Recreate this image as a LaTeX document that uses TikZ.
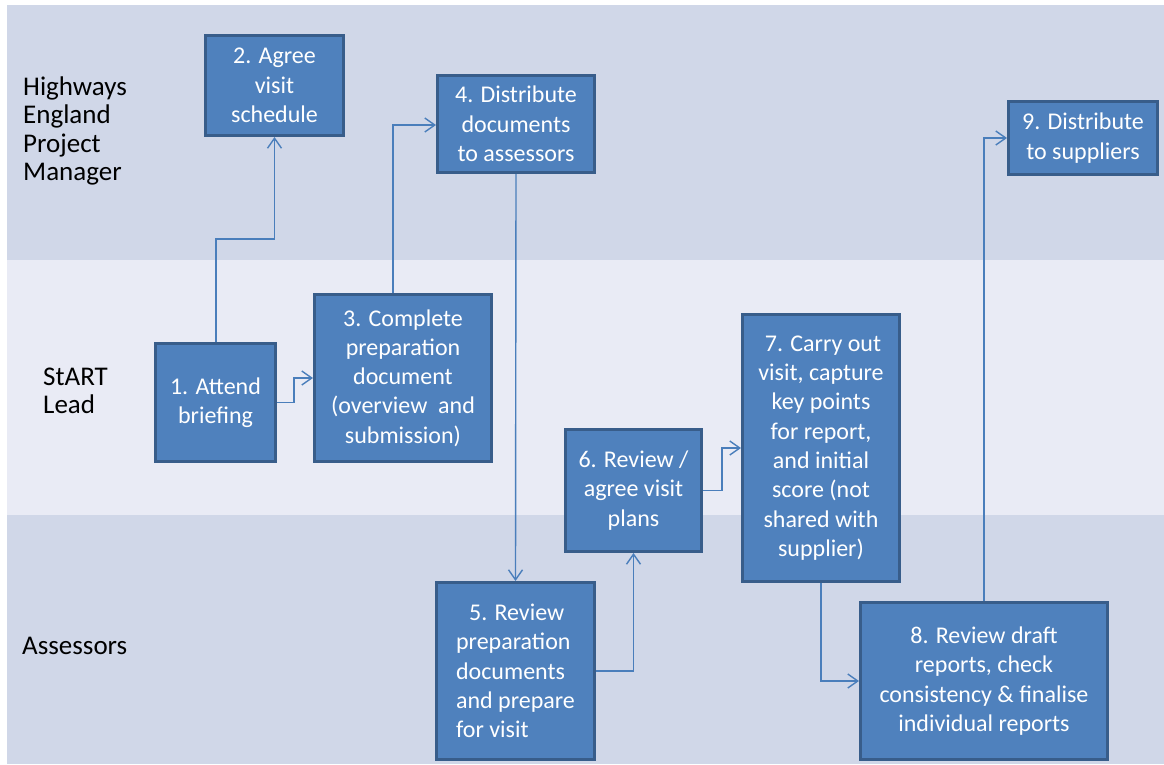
\documentclass[tikz,border=0pt]{standalone}
\usepackage{fontspec}
\setmainfont{Carlito}
\usetikzlibrary{arrows.meta}
\definecolor{laneA}{HTML}{D0D7E8}
\definecolor{laneB}{HTML}{E9EBF5}
\definecolor{boxfill}{HTML}{4F81BD}
\definecolor{boxline}{HTML}{385D8A}
\definecolor{conn}{HTML}{4A7EBB}
\tikzset{
  stepbox/.style={draw=boxline, line width=3pt, fill=boxfill, text=white,
    align=center, inner sep=2pt,
    font=\fontsize{24}{29.3}\selectfont},
  lanelabel/.style={anchor=west, inner sep=0pt, align=left, text=black,
    font=\fontsize{27}{28.5}\selectfont},
  flow/.style={draw=conn, line width=1.4pt,
    -{Straight Barb[length=10pt,width=14pt,line width=1.4pt]}},
}
\begin{document}
\begin{tikzpicture}[x=1pt,y=-1pt]
\useasboundingbox (0,0) rectangle (1164,764);
\fill[white] (0,0) rectangle (1164,764);
% lanes
\fill[laneA] (7,5) rectangle (1164,260);
\fill[laneB] (7,260) rectangle (1164,515);
\fill[laneA] (7,515) rectangle (1164,764);
% lane labels
\node[lanelabel] (l1) at (23,131) {Highways\\England\\Project\\Manager};
\node[lanelabel] (l2) at (43,391) {StART\\Lead};
\node[lanelabel] (l3) at (22,646) {Assessors};
% boxes
\node[stepbox, minimum width=120pt, minimum height=118pt] (b1) at (215.5,402.5) {1. Attend\\briefing};
\node[stepbox, minimum width=138pt, minimum height=100pt] (b2) at (274.5,85.5) {\rule{0pt}{6pt}2. Agree\\visit\\schedule};
\node[stepbox, minimum width=177pt, minimum height=167pt] (b3) at (403,378) {3. Complete\\preparation\\document\\(overview\ \ and\\submission)};
\node[stepbox, minimum width=157pt, minimum height=97pt] (b4) at (516,124) {4. Distribute\\documents\\to assessors};
\node[stepbox, minimum width=158pt, minimum height=177pt, align=left] (b5) at (515.5,671) {\hspace*{13pt}5. Review\\preparation\\documents\\and prepare\\for visit};
\node[stepbox, minimum width=136pt, minimum height=122pt] (b6) at (633.5,490.5) {6. Review /\\agree visit\\plans};
\node[stepbox, minimum width=157pt, minimum height=267pt] (b7) at (821,448) {\hspace*{4pt}7. Carry out\\visit, capture\\key points\\for report,\\and initial\\score (not\\shared with\\supplier)};
\node[stepbox, minimum width=247pt, minimum height=157pt] (b8) at (984,681) {8. Review draft\\reports, check\\consistency \& finalise\\individual reports};
\node[stepbox, minimum width=149pt, minimum height=73pt] (b9) at (1083,138) {9. Distribute\\to suppliers};
% connector bends
\coordinate (c1a) at (216,239);
\coordinate (c1b) at (274.5,239);
\coordinate (c3a) at (294,402.5);
\coordinate (c3b) at (294,378);
\coordinate (c4a) at (393,125);
\coordinate (c6a) at (633.5,671);
\coordinate (c7a) at (722,490.5);
\coordinate (c7b) at (722,448);
\coordinate (c8a) at (821,681);
\coordinate (c9a) at (984,138);
% connectors
\draw[flow] (b1.north -| c1a) -- (c1a) -- (c1b) -- (b2.south);
\draw[flow] (b1.east) -- (c3a) -- (c3b) -- (b3.west);
\draw[flow] (b3.north -| c4a) -- (c4a) -- (b4.west |- c4a);
\draw[flow] (b4.south) -- (b5.north);
\draw[flow] (b5.east) -- (c6a) -- (b6.south);
\draw[flow] (b6.east) -- (c7a) -- (c7b) -- (b7.west);
\draw[flow] (b7.south) -- (c8a) -- (b8.west);
\draw[flow] (b8.north) -- (c9a) -- (b9.west);
\end{tikzpicture}
\end{document}
